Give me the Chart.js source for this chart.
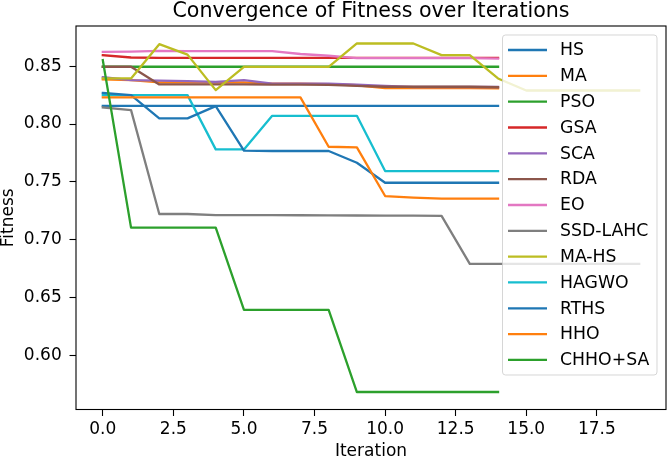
<!DOCTYPE html>
<html>
<head>
<meta charset="utf-8">
<script src="https://cdn.jsdelivr.net/npm/chart.js@4.4.0/dist/chart.umd.min.js"></script>
<style>
html, body { margin: 0; padding: 0; background: #ffffff; }
canvas { display: block; }
</style>
</head>
<body>
<canvas id="c" width="667" height="460"></canvas>
<script>
const titleText = 'Convergence of Fitness over Iterations';
const xTitle = 'Iteration';
const yTitle = 'Fitness';
const iterations = [0,1,2,3,4,5,6,7,8,9,10,11,12,13,14,15,16,17,18,19];
const xTicks = [0, 2.5, 5, 7.5, 10, 12.5, 15, 17.5];
const yTicks = [0.60, 0.65, 0.70, 0.75, 0.80, 0.85];
const seriesNames = ['HS','MA','PSO','GSA','SCA','RDA','EO','SSD-LAHC','MA-HS','HAGWO','RTHS','HHO','CHHO+SA'];

const hs     = [0.8157,0.8157,0.8157,0.8157,0.8157,0.8157,0.8157,0.8157,0.8157,0.8157,0.8157,0.8157,0.8157,0.8157,0.8157];
const ma     = [0.8385,0.8380,0.8360,0.8360,0.8360,0.8360,0.8350,0.8350,0.8345,0.8335,0.8310,0.8310,0.8310,0.8310,0.8308];
const pso    = [0.8495,0.8495,0.8495,0.8495,0.8495,0.8495,0.8495,0.8495,0.8495,0.8495,0.8495,0.8495,0.8495,0.8495,0.8495];
const gsa    = [0.8595,0.8575,0.8572,0.8572,0.8572,0.8572,0.8572,0.8572,0.8572,0.8572,0.8572,0.8572,0.8572,0.8572,0.8572];
const sca    = [0.8405,0.8380,0.8375,0.8370,0.8365,0.8380,0.8350,0.8350,0.8350,0.8340,0.8330,0.8320,0.8320,0.8320,0.8320];
const rda    = [0.8495,0.8495,0.8342,0.8342,0.8342,0.8342,0.8340,0.8340,0.8338,0.8330,0.8322,0.8322,0.8322,0.8322,0.8318];
const eo     = [0.8623,0.8625,0.8632,0.8630,0.8630,0.8630,0.8630,0.8605,0.8590,0.8570,0.8570,0.8570,0.8570,0.8570,0.8566];
const ssdLahc= [0.8144,0.8120,0.7223,0.7223,0.7214,0.7214,0.7213,0.7212,0.7211,0.7210,0.7209,0.7208,0.7206,0.6792,0.6792,0.6792,0.6792,0.6792,0.6792,0.6792];
const maHs   = [0.8394,0.8394,0.8690,0.8600,0.8293,0.8494,0.8494,0.8494,0.8494,0.8696,0.8696,0.8696,0.8595,0.8595,0.8394,0.8290,0.8290,0.8290,0.8290,0.8290];
const hagwo  = [0.8250,0.8250,0.8250,0.8250,0.7781,0.7781,0.8071,0.8071,0.8071,0.8071,0.7594,0.7594,0.7594,0.7594,0.7594];
const rths   = [0.8269,0.8250,0.8049,0.8049,0.8155,0.7770,0.7767,0.7767,0.7767,0.7666,0.7493,0.7493,0.7493,0.7493,0.7493];
const hho    = [0.8230,0.8230,0.8230,0.8230,0.8230,0.8230,0.8230,0.8230,0.7804,0.7798,0.7378,0.7364,0.7355,0.7355,0.7355];
const chhoSa = [0.8552,0.7105,0.7105,0.7105,0.7105,0.6395,0.6395,0.6395,0.6395,0.5685,0.5685,0.5685,0.5685,0.5685,0.5685];

const seriesValues = [hs, ma, pso, gsa, sca, rda, eo, ssdLahc, maHs, hagwo, rths, hho, chhoSa];
const palette = ['#1f77b4','#ff7f0e','#2ca02c','#d62728','#9467bd','#8c564b','#e377c2','#7f7f7f','#bcbd22','#17becf','#1f77b4','#ff7f0e','#2ca02c'];

const FONT = '"DejaVu Sans", "Liberation Sans", sans-serif';
const N = seriesNames.length;

const datasets = seriesNames.map((name, i) => ({
  label: name,
  data: seriesValues[i].map((v, k) => ({ x: iterations[k], y: v })),
  borderColor: palette[i],
  backgroundColor: palette[i],
  borderWidth: 2.3,
  pointRadius: 0,
  tension: 0,
  fill: false,
  borderJoinStyle: 'round',
  borderCapStyle: 'square',
  order: N - i
}));

const decor = {
  id: 'decor',
  afterDraw(chart) {
    const ctx = chart.ctx;
    const a = chart.chartArea;
    ctx.save();
    // frame
    ctx.strokeStyle = '#000';
    ctx.lineWidth = 1.1;
    ctx.strokeRect(a.left, a.top, a.right - a.left, a.bottom - a.top);
    // title
    ctx.fillStyle = '#000';
    ctx.font = '20.6px ' + FONT;
    ctx.textAlign = 'center';
    ctx.textBaseline = 'alphabetic';
    ctx.fillText(titleText, (a.left + a.right) / 2, 16.9);
    // legend
    const lx = 502.5, ly = 35, lw = 154.5, lh = 340, r = 3;
    ctx.beginPath();
    ctx.moveTo(lx + r, ly);
    ctx.lineTo(lx + lw - r, ly);
    ctx.arcTo(lx + lw, ly, lx + lw, ly + r, r);
    ctx.lineTo(lx + lw, ly + lh - r);
    ctx.arcTo(lx + lw, ly + lh, lx + lw - r, ly + lh, r);
    ctx.lineTo(lx + r, ly + lh);
    ctx.arcTo(lx, ly + lh, lx, ly + lh - r, r);
    ctx.lineTo(lx, ly + r);
    ctx.arcTo(lx, ly, lx + r, ly, r);
    ctx.closePath();
    ctx.fillStyle = 'rgba(255,255,255,0.8)';
    ctx.fill();
    ctx.strokeStyle = 'rgba(204,204,204,0.8)';
    ctx.lineWidth = 1;
    ctx.stroke();
    ctx.font = '17.3px ' + FONT;
    ctx.textAlign = 'left';
    ctx.textBaseline = 'middle';
    chart.data.datasets.forEach((ds, i) => {
      const y = 50 + i * 25.83;
      ctx.strokeStyle = ds.borderColor;
      ctx.lineWidth = 2.3;
      ctx.lineCap = 'butt';
      ctx.beginPath();
      ctx.moveTo(508, y);
      ctx.lineTo(547, y);
      ctx.stroke();
      ctx.fillStyle = '#000';
      ctx.fillText(ds.label, 560, y + 0.8);
    });
    ctx.restore();
  }
};

new Chart(document.getElementById('c'), {
  type: 'line',
  data: { datasets },
  options: {
    responsive: false,
    animation: false,
    devicePixelRatio: 1,
    layout: { padding: { top: 26, right: 1, left: 0, bottom: 0 } },
    plugins: {
      legend: { display: false },
      title: { display: false },
      tooltip: { enabled: false }
    },
    scales: {
      x: {
        type: 'linear',
        min: -0.95,
        max: 19.95,
        afterBuildTicks: s => { s.ticks = xTicks.map(v => ({ value: v })); },
        afterFit: s => { s.height = 50.5; },
        ticks: {
          callback: v => Number(v).toFixed(1),
          color: '#000',
          font: { family: FONT, size: 17 },
          padding: 3.6,
          maxRotation: 0,
          autoSkip: false
        },
        grid: { display: true, drawOnChartArea: false, drawTicks: true, tickLength: 6.5, tickWidth: 1.1, tickColor: '#000' },
        border: { display: false },
        title: { display: true, text: xTitle, color: '#000', font: { family: FONT, size: 17, lineHeight: 1 }, padding: 0 }
      },
      y: {
        type: 'linear',
        min: 0.5534,
        max: 0.8847,
        afterBuildTicks: s => { s.ticks = yTicks.map(v => ({ value: v })); },
        afterFit: s => { s.width = 76; },
        ticks: {
          callback: v => Number(v).toFixed(2),
          color: '#000',
          font: { family: FONT, size: 17 },
          padding: 7.8,
          autoSkip: false
        },
        grid: { display: true, drawOnChartArea: false, drawTicks: true, tickLength: 6.5, tickWidth: 1.1, tickColor: '#000' },
        border: { display: false },
        title: { display: true, text: yTitle, color: '#000', font: { family: FONT, size: 17, lineHeight: 1 }, padding: 0 }
      }
    }
  },
  plugins: [decor]
});
</script>
</body>
</html>
